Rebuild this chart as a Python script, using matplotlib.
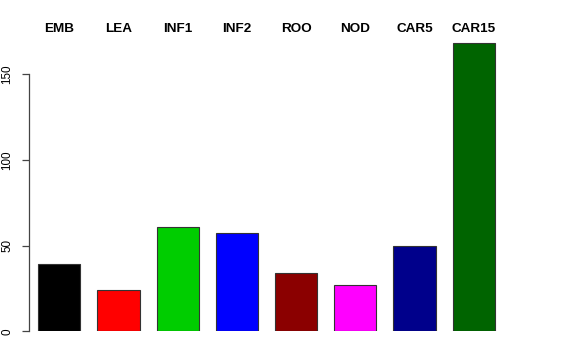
import matplotlib
matplotlib.use("Agg")
import matplotlib.pyplot as plt

categories = ["EMB", "LEA", "INF1", "INF2", "ROO", "NOD", "CAR5", "CAR15"]
values = [39.1, 23.9, 61.0, 57.3, 33.8, 27.2, 49.6, 168.1]
colors = ["#000000", "#FF0000", "#00CD00", "#0000FF", "#8B0000", "#FF00FF", "#00008B", "#006400"]
yticks = [0, 50, 100, 150]

W, H = 576, 360
fig = plt.figure(figsize=(W / 100, H / 100), dpi=100)
plt.rcParams['font.family'] = ['Liberation Sans', 'DejaVu Sans']

# pixel geometry
px_unit_x = 59.2
spine_x = 28.7
y0_px = 28.7       # from bottom
px_unit_y = 1.715
xlim = (-0.517, 8.5)
ylim = (0, 180)
ax_w = (xlim[1] - xlim[0]) * px_unit_x
ax_h = (ylim[1] - ylim[0]) * px_unit_y
ax = fig.add_axes([spine_x / W, y0_px / H, ax_w / W, ax_h / H])
ax.set_xlim(*xlim)
ax.set_ylim(*ylim)

xs = list(range(len(categories)))
ax.bar(xs, values, width=0.71, color=colors, edgecolor="#333333", linewidth=0.8)

for s in ["top", "right", "bottom"]:
    ax.spines[s].set_visible(False)
ax.spines["left"].set_bounds(0, 150)
ax.spines["left"].set_color("#444444")
ax.spines["left"].set_linewidth(0.9)
ax.set_xticks([])
ax.set_yticks(yticks)
ax.set_yticklabels([str(v) for v in yticks], rotation=90, va="center", fontsize=8.4)
ax.tick_params(axis="y", length=5, width=0.9, color="#444444", pad=6)

for x, c in zip(xs, categories):
    ax.annotate(c, xy=(x, 1 - 29.5 / H), xycoords=("data", "figure fraction"),
                ha="center", va="center", fontsize=9.7, fontweight="bold", annotation_clip=False)

fig.savefig("out.png", dpi=100)
